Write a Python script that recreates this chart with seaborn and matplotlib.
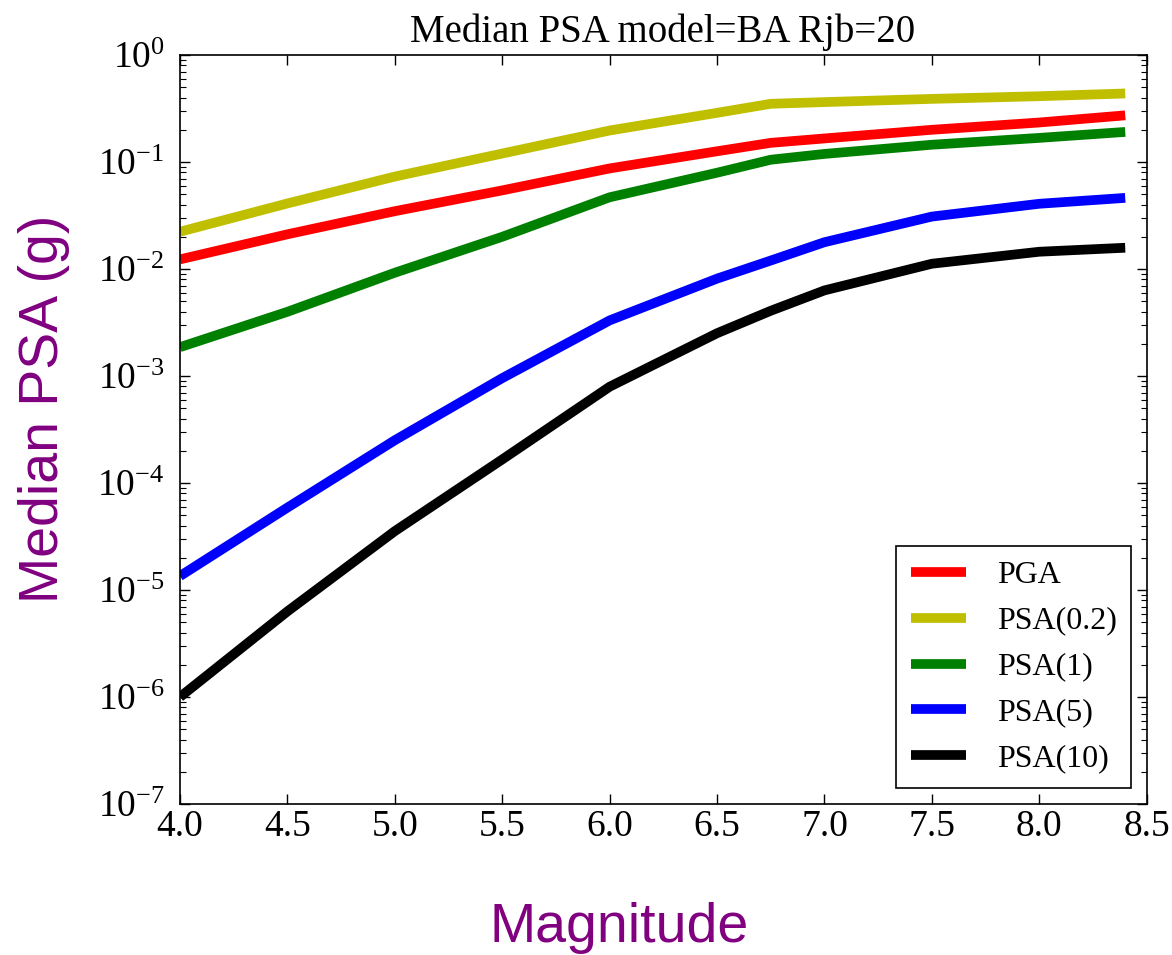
import matplotlib
matplotlib.use("Agg")
import matplotlib.pyplot as plt
import pandas as pd
import seaborn as sns
from matplotlib.ticker import LogLocator, NullFormatter, FormatStrFormatter

# Magnitudes at which the median spectral accelerations are tabulated
magnitude = [4.0, 4.5, 5.0, 5.5, 6.0, 6.5, 6.75, 7.0, 7.5, 8.0, 8.4]

# Median PSA (g) for each intensity measure, BA model at Rjb = 20 km
pga = [0.0123, 0.0211, 0.0347, 0.0543, 0.0871, 0.126, 0.151, 0.166, 0.200, 0.234, 0.273]
psa_02 = [0.0223, 0.0410, 0.0731, 0.120, 0.197, 0.288, 0.350, 0.363, 0.389, 0.412, 0.437]
psa_1 = [0.00186, 0.00398, 0.00923, 0.0200, 0.0468, 0.0794, 0.105, 0.119, 0.145, 0.168, 0.191]
psa_5 = [1.35e-5, 5.89e-5, 2.51e-4, 9.55e-4, 3.31e-3, 8.13e-3, 0.0120, 0.0178, 0.0309, 0.0407, 0.0462]
psa_10 = [1.00e-6, 6.31e-6, 3.55e-5, 1.66e-4, 7.94e-4, 2.51e-3, 4.07e-3, 6.31e-3, 0.0112, 0.0145, 0.0158]

series_names = ["PGA", "PSA(0.2)", "PSA(1)", "PSA(5)", "PSA(10)"]
series_values = [pga, psa_02, psa_1, psa_5, psa_10]
series_colors = ["#ff0000", "#bfbf00", "#008000", "#0000ff", "#000000"]

xtick_values = [4.0, 4.5, 5.0, 5.5, 6.0, 6.5, 7.0, 7.5, 8.0, 8.5]

frames = [pd.DataFrame({"Magnitude": magnitude, "PSA": vals, "Measure": name})
          for name, vals in zip(series_names, series_values)]
df = pd.concat(frames, ignore_index=True)

sns.set_style("ticks")
plt.rcParams["font.family"] = ["Liberation Serif", "DejaVu Serif"]
plt.rcParams["mathtext.fontset"] = "stix"
plt.rcParams["axes.linewidth"] = 1.2
plt.rcParams["text.color"] = "black"
plt.rcParams["axes.labelcolor"] = "black"
plt.rcParams["xtick.color"] = "black"
plt.rcParams["ytick.color"] = "black"

W, H = 1172, 955
fig = plt.figure(figsize=(W / 100, H / 100), dpi=100)
ax = fig.add_axes([180 / W, 1 - 804 / H, (1146.7 - 180) / W, (804 - 55) / H])

sns.lineplot(data=df, x="Magnitude", y="PSA", hue="Measure", hue_order=series_names,
             palette=dict(zip(series_names, series_colors)), linewidth=7,
             ax=ax, legend=True)
for line in ax.get_lines():
    line.set_solid_joinstyle("round")
    line.set_solid_capstyle("butt")

ax.set_yscale("log")
ax.set_xlim(4.0, 8.5)
ax.set_ylim(1e-7, 1e0)
ax.set_xticks(xtick_values)
ax.xaxis.set_major_formatter(FormatStrFormatter("%.1f"))
ax.yaxis.set_major_locator(LogLocator(base=10, numticks=20))
ax.yaxis.set_minor_locator(LogLocator(base=10, subs=range(2, 10), numticks=20))
ax.yaxis.set_minor_formatter(NullFormatter())

for s in ax.spines.values():
    s.set_color("black")
    s.set_linewidth(1.2)

ax.tick_params(axis="both", which="both", direction="in", top=True, right=True,
               colors="black", labelcolor="black")
ax.tick_params(axis="both", which="major", length=7, width=1.0, labelsize=27)
ax.tick_params(axis="both", which="minor", length=4, width=0.8)
ax.tick_params(axis="x", which="major", pad=4)
ax.tick_params(axis="y", which="major", pad=11)

ax.set_xlabel("")
ax.set_ylabel("")

handles, labels = ax.get_legend_handles_labels()
for h in handles:
    h.set_linewidth(7)
    h.set_solid_capstyle("butt")
leg = ax.legend(handles, labels, loc="lower right",
                bbox_to_anchor=(1131 / W, 1 - 788 / H), bbox_transform=fig.transFigure,
                borderaxespad=0, fontsize=23, frameon=True, fancybox=False,
                framealpha=1, edgecolor="black", handlelength=1.75,
                handletextpad=0.95, labelspacing=0.52, borderpad=0.45)
leg.get_frame().set_linewidth(1.2)
for t in leg.get_texts():
    t.set_color("black")

fig.text(663 / W, 1 - 41.7 / H, "Median PSA model=BA Rjb=20", ha="center",
         va="baseline", fontsize=28, color="black")

fig.text(489 / W, 1 - 942 / H, "Magnitude", ha="left", va="baseline",
         fontsize=40, color="purple", family=["Liberation Sans", "DejaVu Sans"])
fig.text(58 / W, 1 - 603 / H, "Median PSA (g)", ha="left", va="baseline",
         rotation=90, rotation_mode="anchor", fontsize=40, color="purple",
         family=["Liberation Sans", "DejaVu Sans"])

fig.savefig("out.png", dpi=100)
